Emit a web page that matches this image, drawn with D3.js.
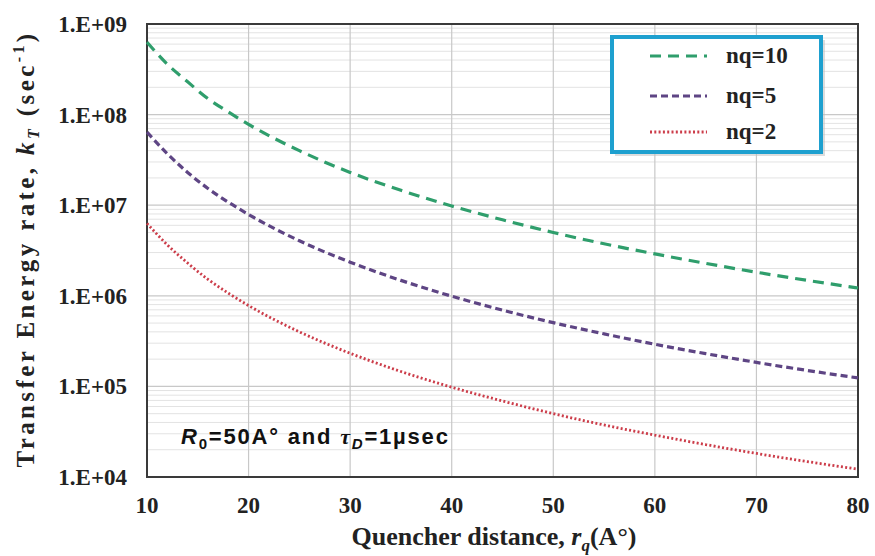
<!DOCTYPE html>
<html>
<head>
<meta charset="utf-8">
<script src="https://cdn.jsdelivr.net/npm/d3@7"></script>
<style>
    body { margin: 0; background: #fff; }
    svg { display: block; }
    .tick-label { font-family: "Liberation Serif", "Times New Roman", serif; font-weight: bold; fill: #222; }
    .axis-title { font-family: "Liberation Serif", "Times New Roman", serif; font-weight: bold; fill: #222; }
    .legend-text { font-family: "Liberation Serif", "Times New Roman", serif; font-weight: bold; font-size: 23px; fill: #222; }
    .note { font-family: "Liberation Sans", Arial, sans-serif; font-weight: bold; font-size: 22px; fill: #111; letter-spacing: 1.8px; }
</style>
</head>
<body>
<svg width="875" height="556"></svg>
<script>
// Data (quencher distance in A°, rate in 1/sec)
var distances = [10, 12, 14, 16, 18, 20, 25, 30, 35, 40, 45, 50, 55, 60, 65, 70, 75, 80];
var nq10 = [6.3e8, 3.6e8, 2.3e8, 1.5e8, 1.07e8, 7.8e7, 4.0e7, 2.3e7, 1.46e7, 9.8e6, 6.9e6, 5.0e6, 3.75e6, 2.9e6, 2.28e6, 1.82e6, 1.48e6, 1.22e6];
var nq5 = [6.4e7, 3.7e7, 2.3e7, 1.53e7, 1.08e7, 7.9e6, 4.05e6, 2.35e6, 1.48e6, 9.9e5, 6.95e5, 5.05e5, 3.8e5, 2.92e5, 2.3e5, 1.84e5, 1.5e5, 1.24e5];
var nq2 = [6.3e6, 3.65e6, 2.3e6, 1.52e6, 1.07e6, 7.8e5, 4.0e5, 2.32e5, 1.46e5, 9.8e4, 6.9e4, 5.0e4, 3.75e4, 2.9e4, 2.28e4, 1.82e4, 1.48e4, 1.22e4];
var seriesNames = ["nq=10", "nq=5", "nq=2"];
var xTicks = [10, 20, 30, 40, 50, 60, 70, 80];
var yTicks = [1e4, 1e5, 1e6, 1e7, 1e8, 1e9];
var yTickLabels = ["1.E+04", "1.E+05", "1.E+06", "1.E+07", "1.E+08", "1.E+09"];

var svg = d3.select("svg"),
    plotLeft = 147, plotRight = 858, plotTop = 24, plotBottom = 477;

var xScale = d3.scaleLinear().domain([10, 80]).range([plotLeft, plotRight]),
    yScale = d3.scaleLog().domain([1e4, 1e9]).range([plotBottom, plotTop]);

var styles = [
    { color: "#2f9e6c", dash: "11,7", width: 3.2 },
    { color: "#5e4584", dash: "7,4", width: 3.2 },
    { color: "#cc3d4a", dash: "2,2.3", width: 2.8 }
];

// Minor horizontal gridlines (2..9 within each decade)
var minor = [];
for (var p = 4; p < 9; p++) {
    for (var m = 2; m <= 9; m++) minor.push(m * Math.pow(10, p));
}
svg.append("g").selectAll("line").data(minor).enter().append("line")
    .attr("x1", plotLeft).attr("x2", plotRight)
    .attr("y1", d => yScale(d)).attr("y2", d => yScale(d))
    .attr("stroke", "#e3e3e3").attr("stroke-width", 1);

// Major gridlines
svg.append("g").selectAll("line").data(yTicks).enter().append("line")
    .attr("x1", plotLeft).attr("x2", plotRight)
    .attr("y1", d => yScale(d)).attr("y2", d => yScale(d))
    .attr("stroke", "#c8c8c8").attr("stroke-width", 1.2);
svg.append("g").selectAll("line").data(xTicks).enter().append("line")
    .attr("y1", plotTop).attr("y2", plotBottom)
    .attr("x1", d => xScale(d)).attr("x2", d => xScale(d))
    .attr("stroke", "#c8c8c8").attr("stroke-width", 1.2);

// Plot border
svg.append("rect")
    .attr("x", plotLeft).attr("y", plotTop)
    .attr("width", plotRight - plotLeft).attr("height", plotBottom - plotTop)
    .attr("fill", "none").attr("stroke", "#3a3a3a").attr("stroke-width", 2);

// Tick labels
svg.append("g").selectAll("text").data(yTicks).enter().append("text")
    .attr("class", "tick-label")
    .attr("x", 127).attr("y", d => yScale(d) + 8)
    .attr("text-anchor", "end")
    .style("font-size", "23px")
    .text((d, i) => yTickLabels[i]);
svg.append("g").selectAll("text").data(xTicks).enter().append("text")
    .attr("class", "tick-label")
    .attr("x", d => xScale(d)).attr("y", 513)
    .attr("text-anchor", "middle")
    .style("font-size", "23px")
    .text(d => d);

// Lines
var line = d3.line()
    .x((d, i) => xScale(distances[i]))
    .y(d => yScale(d))
    .curve(d3.curveMonotoneX);

[nq10, nq5, nq2].forEach(function (vals, i) {
    svg.append("path")
        .datum(vals)
        .attr("fill", "none")
        .attr("stroke", styles[i].color)
        .attr("stroke-width", styles[i].width)
        .attr("stroke-dasharray", styles[i].dash)
        .attr("d", line);
});

// Axis titles
var xt = svg.append("text").attr("class", "axis-title")
    .attr("x", 494).attr("y", 545)
    .attr("text-anchor", "middle")
    .style("font-size", "26px");
xt.append("tspan").text("Quencher distance, ");
xt.append("tspan").style("font-style", "italic").text("r");
xt.append("tspan").style("font-style", "italic").style("font-size", "17px").attr("dy", 6).text("q");
xt.append("tspan").attr("dy", -6).text("(A°)");

var yt = svg.append("text").attr("class", "axis-title")
    .attr("transform", "translate(34,249) rotate(-90)")
    .attr("text-anchor", "middle")
    .style("font-size", "25px")
    .style("letter-spacing", "3.4px");
yt.append("tspan").text("Transfer Energy rate, ");
yt.append("tspan").style("font-style", "italic").text("k");
yt.append("tspan").style("font-style", "italic").style("font-size", "16px").attr("dy", 5).text("T");
yt.append("tspan").attr("dy", -5).text(" (sec");
yt.append("tspan").style("font-size", "16px").attr("dy", -10).text("-1");
yt.append("tspan").attr("dy", 10).text(")");

// Annotation
var note = svg.append("text").attr("class", "note").attr("x", 181).attr("y", 444);
note.append("tspan").style("font-style", "italic").text("R");
note.append("tspan").style("font-size", "15px").attr("dy", 5).text("0");
note.append("tspan").attr("dy", -5).text("=50A° and ");
note.append("tspan").style("font-style", "italic").style("font-family", "'Liberation Serif', serif").text("τ");
note.append("tspan").style("font-style", "italic").style("font-size", "15px").attr("dy", 5).text("D");
note.append("tspan").attr("dy", -5).text("=1µsec");

// Legend
var legend = svg.append("g");
legend.append("rect")
    .attr("x", 615).attr("y", 40).attr("width", 210).attr("height", 116)
    .attr("fill", "#bbb").attr("opacity", 0.5);
legend.append("rect")
    .attr("x", 612).attr("y", 37).attr("width", 209).attr("height", 115)
    .attr("fill", "#fff").attr("stroke", "#1ea0cf").attr("stroke-width", 4);
var legendY = [56, 96, 132];
seriesNames.forEach(function (name, i) {
    legend.append("line")
        .attr("x1", 650).attr("x2", 707)
        .attr("y1", legendY[i]).attr("y2", legendY[i])
        .attr("stroke", styles[i].color)
        .attr("stroke-width", styles[i].width)
        .attr("stroke-dasharray", styles[i].dash);
    legend.append("text").attr("class", "legend-text")
        .attr("x", 726).attr("y", legendY[i] + 7)
        .text(name);
});
</script>
</body>
</html>
